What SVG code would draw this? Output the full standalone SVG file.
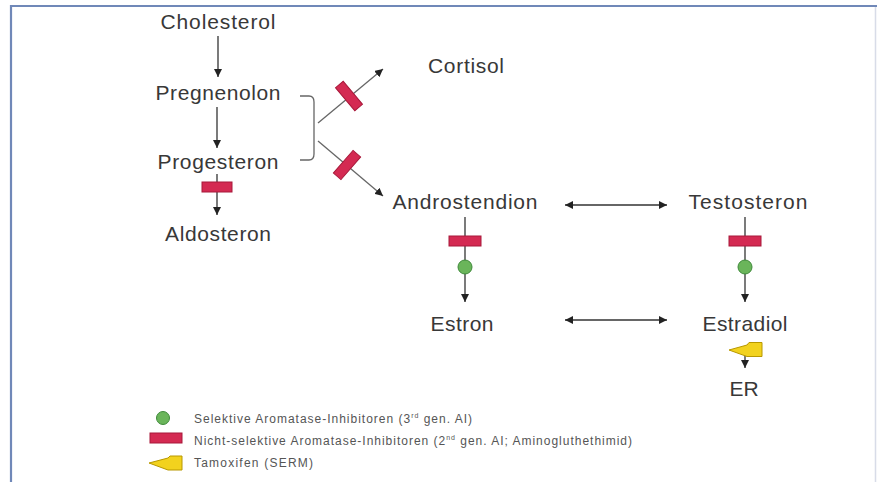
<svg xmlns="http://www.w3.org/2000/svg" width="877" height="482" viewBox="0 0 877 482">
<defs>
<style>
.t{font-family:"Liberation Sans",Arial,sans-serif;font-size:21px;fill:#383838;text-anchor:middle}
.lg{font-family:"Liberation Sans",Arial,sans-serif;font-size:12px;fill:#555}
.ln{stroke:#333;stroke-width:1.3;fill:none}
.dg{stroke:#666;stroke-width:1.3;fill:none}
.bar{fill:#d42a52;stroke:#a8183a;stroke-width:1}
.dot{fill:#6ab55a;stroke:#3f8a3a;stroke-width:1}
.tam{fill:#f2d21e;stroke:#b89800;stroke-width:1}
</style>
<marker id="ah" viewBox="0 0 10 10" refX="10" refY="5" markerWidth="8" markerHeight="8" markerUnits="userSpaceOnUse" orient="auto-start-reverse">
<path d="M0,0 L10,5 L0,10 z" fill="#222"/>
</marker>
</defs>
<rect x="0" y="0" width="877" height="482" fill="#fff"/>
<g id="frame">
<line x1="10" y1="6" x2="877" y2="6" stroke="#7088b8" stroke-width="2.2"/>
<line x1="11" y1="5" x2="11" y2="482" stroke="#7088b8" stroke-width="2.2"/>
<line x1="875.5" y1="7" x2="875.5" y2="482" stroke="#d8dce8" stroke-width="1.5"/>
</g>
<g id="connectors">
<line class="ln" x1="218" y1="36" x2="218" y2="77" marker-end="url(#ah)"/>
<line class="ln" x1="217" y1="107" x2="217" y2="148" marker-end="url(#ah)"/>
<line class="ln" x1="217" y1="174" x2="217" y2="215" marker-end="url(#ah)"/>
<path class="dg" d="M300,96 L309,96 Q314,96 314,102 L314,154 Q314,160 309,160 L300,160"/>
<line class="dg" x1="318" y1="123" x2="383" y2="69" marker-end="url(#ah)"/>
<line class="dg" x1="318" y1="141" x2="383" y2="196" marker-end="url(#ah)"/>
<line class="ln" x1="565" y1="205" x2="667" y2="205" marker-start="url(#ah)" marker-end="url(#ah)"/>
<line class="ln" x1="565" y1="320" x2="667" y2="320" marker-start="url(#ah)" marker-end="url(#ah)"/>
<line class="ln" x1="465" y1="217" x2="465" y2="302" marker-end="url(#ah)"/>
<line class="ln" x1="745" y1="217" x2="745" y2="302" marker-end="url(#ah)"/>
<line class="ln" x1="745" y1="354" x2="745" y2="368" marker-end="url(#ah)"/>
</g>
<g id="inhibitors">
<rect class="bar" x="202" y="182" width="30" height="10"/>
<rect class="bar" x="-15" y="-5" width="30" height="10" transform="translate(349,96) rotate(50)"/>
<rect class="bar" x="-15" y="-5" width="30" height="10" transform="translate(347,165) rotate(-49)"/>
<rect class="bar" x="449" y="236" width="32" height="10"/>
<rect class="bar" x="729" y="236" width="32" height="10"/>
<circle class="dot" cx="465" cy="267" r="7"/>
<circle class="dot" cx="745" cy="267" r="7"/>
<polygon class="tam" points="729,350 747,345 749,342.5 762,342.5 762,356.5 747,356.5"/>
</g>
<g id="n-cholesterol"><text class="t" x="218" y="29" textLength="115" lengthAdjust="spacing">Cholesterol</text></g>
<g id="n-pregnenolon"><text class="t" x="218" y="100" textLength="125" lengthAdjust="spacing">Pregnenolon</text></g>
<g id="n-progesteron"><text class="t" x="218" y="169" textLength="121" lengthAdjust="spacing">Progesteron</text></g>
<g id="n-aldosteron"><text class="t" x="218" y="241" textLength="106" lengthAdjust="spacing">Aldosteron</text></g>
<g id="n-cortisol"><text class="t" x="466" y="73" textLength="76" lengthAdjust="spacing">Cortisol</text></g>
<g id="n-androstendion"><text class="t" x="465" y="209" textLength="145" lengthAdjust="spacing">Androstendion</text></g>
<g id="n-testosteron"><text class="t" x="748" y="209" textLength="119" lengthAdjust="spacing">Testosteron</text></g>
<g id="n-estron"><text class="t" x="462" y="331" textLength="63" lengthAdjust="spacing">Estron</text></g>
<g id="n-estradiol"><text class="t" x="745" y="331" textLength="85" lengthAdjust="spacing">Estradiol</text></g>
<g id="n-er"><text class="t" x="744" y="396">ER</text></g>
<g id="legend">
<circle class="dot" cx="163" cy="418" r="6.5"/>
<rect class="bar" x="150" y="433" width="32" height="10"/>
<polygon class="tam" points="149,463 168,458 170,456 182,456 182,470 168,470"/>
<text class="lg" x="194" y="423" textLength="278" lengthAdjust="spacing">Selektive Aromatase-Inhibitoren (3<tspan font-size="7" dy="-5">rd</tspan><tspan dy="5"> gen. AI)</tspan></text>
<text class="lg" x="194" y="445" textLength="438" lengthAdjust="spacing">Nicht-selektive Aromatase-Inhibitoren (2<tspan font-size="7" dy="-5">nd</tspan><tspan dy="5"> gen. AI; Aminogluthethimid)</tspan></text>
<text class="lg" x="194" y="467" textLength="119" lengthAdjust="spacing">Tamoxifen (SERM)</text>
</g>
</svg>
